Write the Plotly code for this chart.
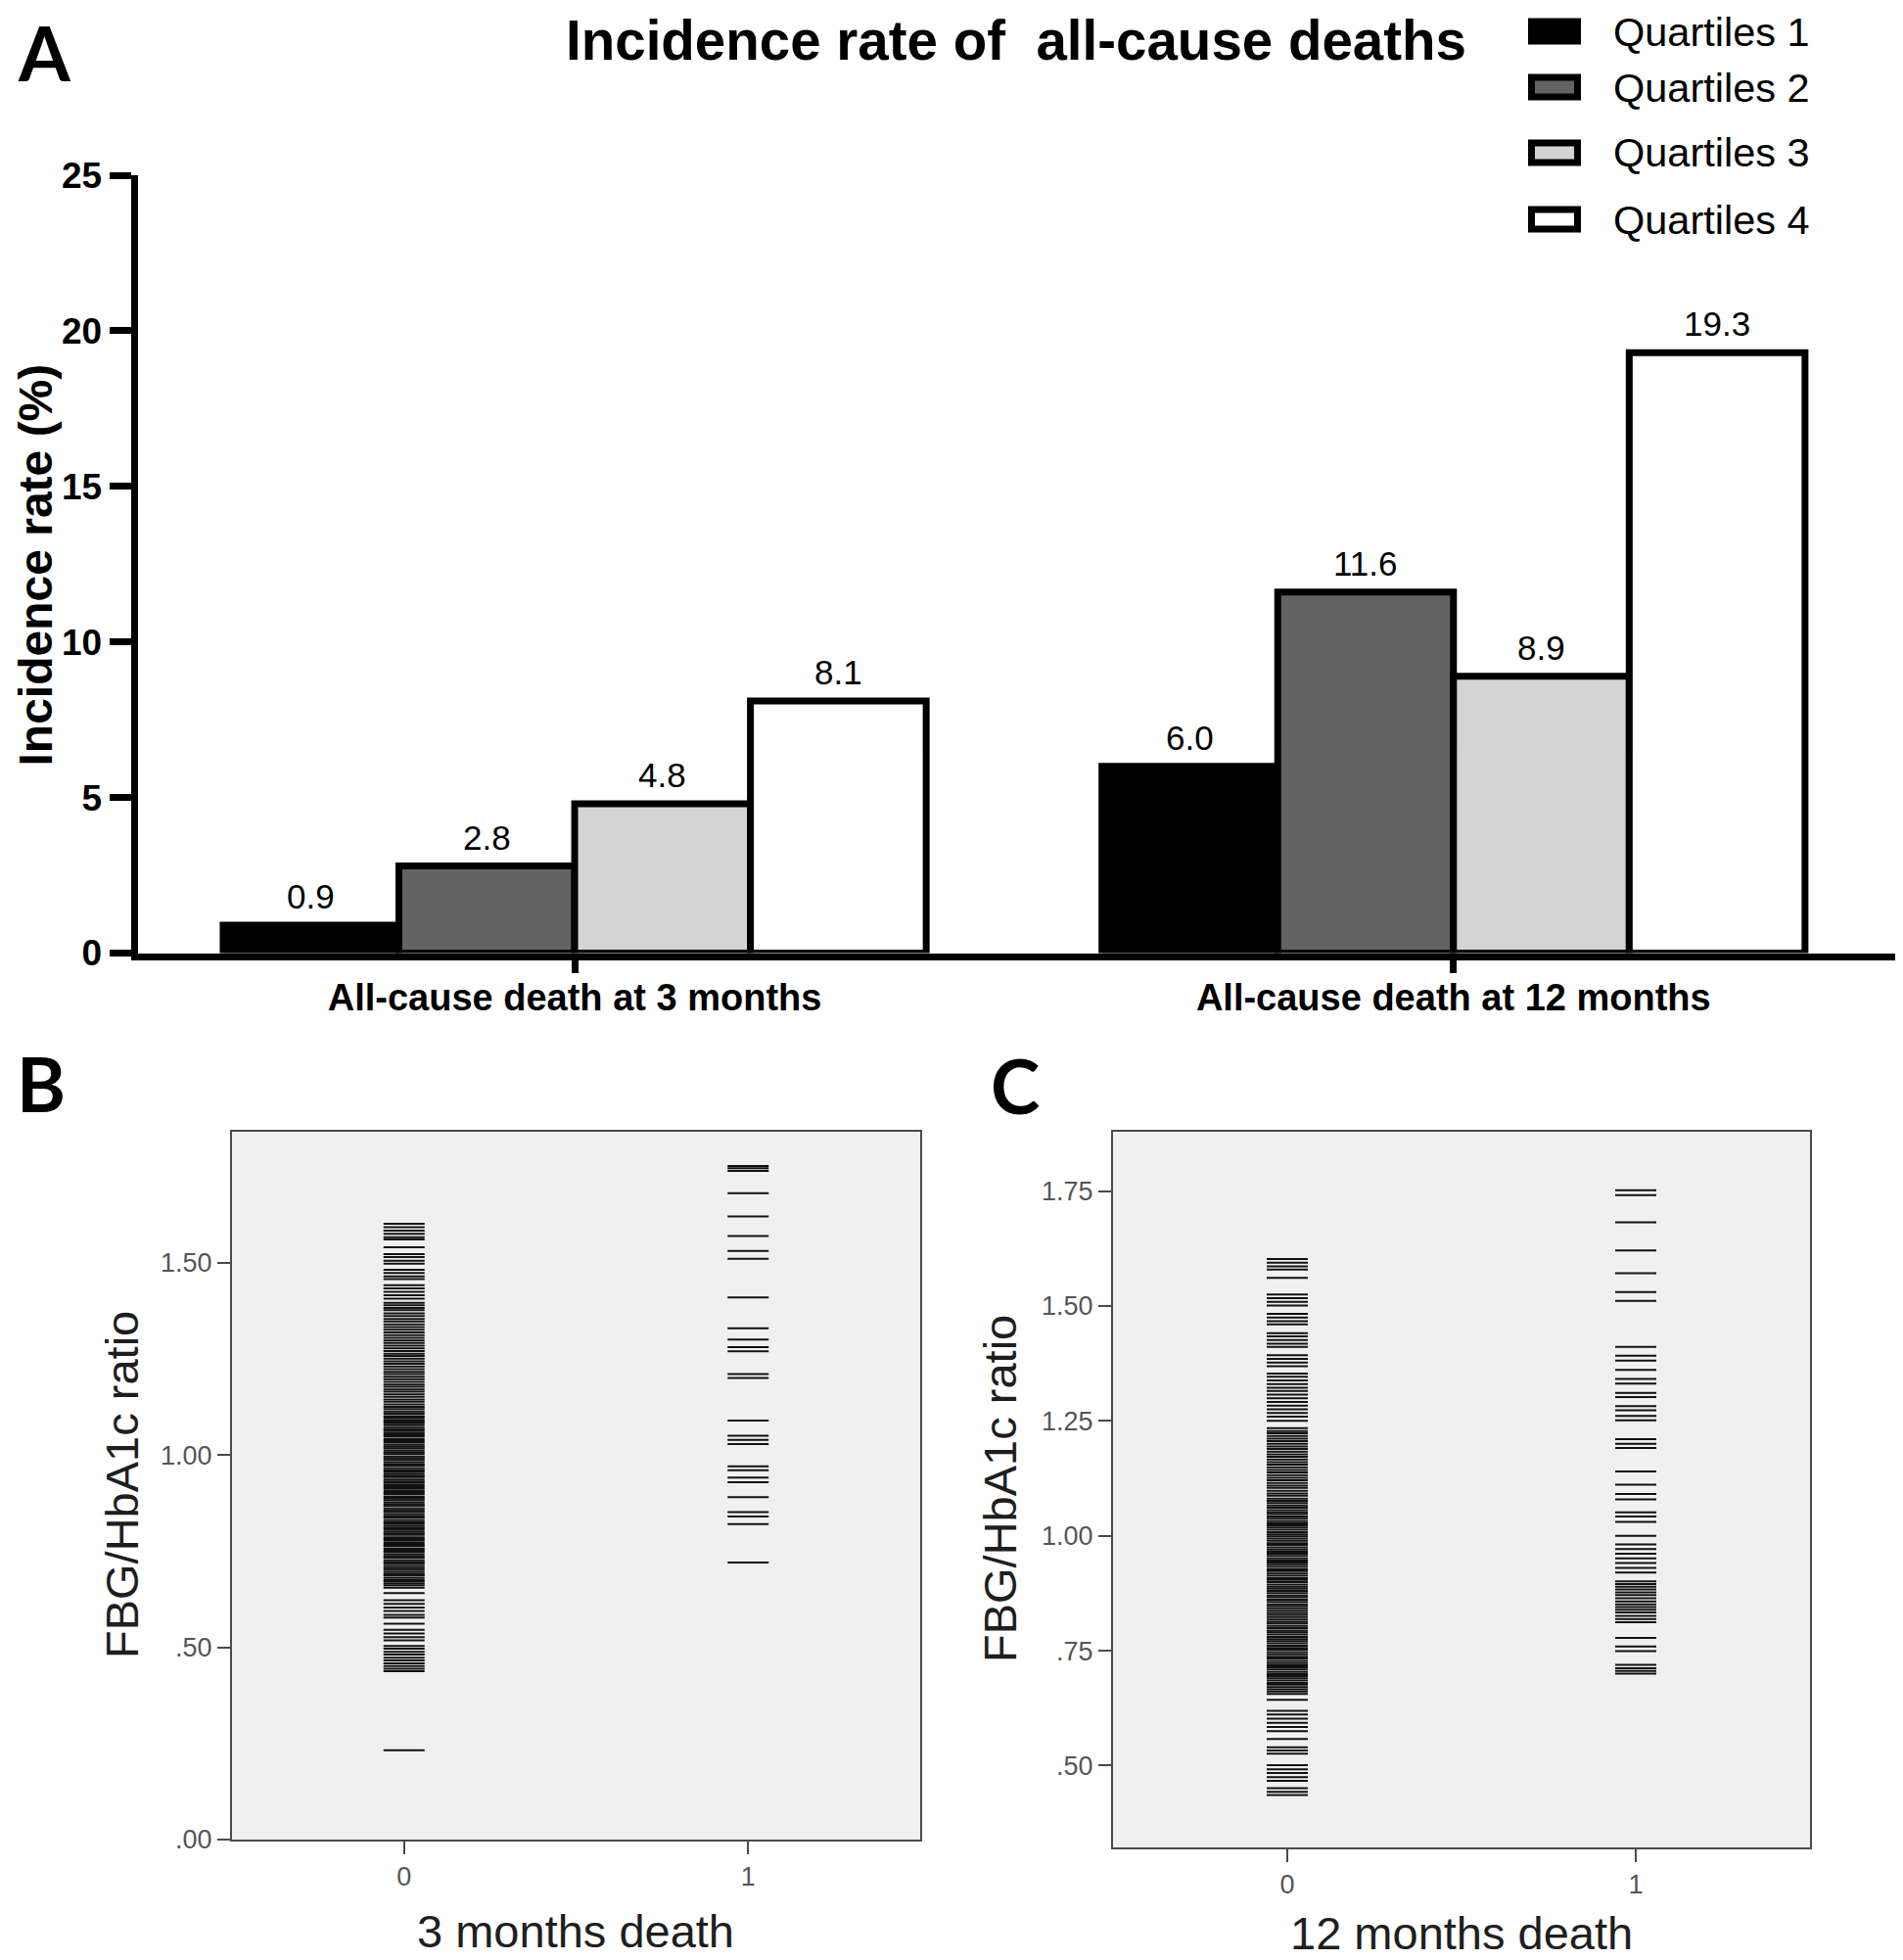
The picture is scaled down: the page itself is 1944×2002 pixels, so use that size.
import plotly.graph_objects as go

# ---------------- data ----------------
categories = ["All-cause death at 3 months", "All-cause death at 12 months"]
quartile_names = ["Quartiles 1", "Quartiles 2", "Quartiles 3", "Quartiles 4"]
q1_rates = [0.9, 6.0]
q2_rates = [2.8, 11.6]
q3_rates = [4.8, 8.9]
q4_rates = [8.1, 19.3]

y_ticks_a = [0, 5, 10, 15, 20, 25]

group_codes = [0, 1]
group_labels = ["0", "1"]

ticks_b = [0.0, 0.5, 1.0, 1.5]
ticklabels_b = [".00", ".50", "1.00", "1.50"]
ticks_c = [0.5, 0.75, 1.0, 1.25, 1.5, 1.75]
ticklabels_c = [".50", ".75", "1.00", "1.25", "1.50", "1.75"]

# FBG/HbA1c ratio, 3-month outcome: survivors (0)
ratio_3m_alive = [
    1.601, 1.592, 1.583, 1.575, 1.566, 1.560, 1.540, 1.522, 1.514, 1.505, 1.497,
    1.481, 1.473, 1.464, 1.457, 1.441, 1.433, 1.424, 1.415, 1.406,
    1.395, 1.389, 1.382, 1.376, 1.368, 1.361, 1.353, 1.347, 1.339, 1.332, 1.325,
    1.318, 1.311, 1.304, 1.297, 1.291, 1.284, 1.277, 1.270, 1.263, 1.257, 1.250,
    1.243, 1.237, 1.230, 1.223, 1.216, 1.210, 1.203, 1.197, 1.190, 1.183, 1.177,
    1.170, 1.164, 1.157, 1.151, 1.144, 1.138, 1.131, 1.125, 1.119, 1.113,
    1.107, 1.101, 1.097, 1.091, 1.087, 1.082, 1.077, 1.071, 1.066, 1.062, 1.056,
    1.051, 1.047, 1.041, 1.036, 1.032, 1.026, 1.021, 1.017, 1.011, 1.006, 1.002,
    0.996, 0.991, 0.987, 0.981, 0.976, 0.972, 0.966, 0.961, 0.957, 0.951, 0.946,
    0.942, 0.936, 0.931, 0.927, 0.921, 0.916, 0.912, 0.906, 0.901, 0.897, 0.891,
    0.886, 0.882, 0.876, 0.871, 0.867, 0.861, 0.856, 0.852, 0.846, 0.841, 0.837,
    0.831, 0.826, 0.822, 0.816, 0.811, 0.807, 0.801, 0.796, 0.792, 0.786, 0.781,
    0.777, 0.771, 0.766, 0.762, 0.756, 0.751, 0.747, 0.741, 0.736, 0.732, 0.726,
    0.721, 0.717, 0.711, 0.706, 0.702, 0.696, 0.691, 0.687, 0.681, 0.676, 0.672,
    0.666, 0.661, 0.655,
    0.641, 0.622, 0.613, 0.603, 0.594, 0.584, 0.577, 0.561, 0.545, 0.536, 0.526,
    0.518, 0.503, 0.496, 0.488, 0.481, 0.473, 0.466, 0.458, 0.451, 0.444, 0.438,
    0.232,
]
# FBG/HbA1c ratio, 3-month outcome: deaths (1)
ratio_3m_dead = [
    1.751, 1.745, 1.738, 1.680, 1.620, 1.569, 1.530, 1.510, 1.409, 1.329, 1.300,
    1.280, 1.269, 1.210, 1.200, 1.089, 1.050, 1.039, 1.028, 0.970, 0.960, 0.941,
    0.929, 0.890, 0.851, 0.840, 0.820, 0.720,
]
# FBG/HbA1c ratio, 12-month outcome: survivors (0)
ratio_12m_alive = [
    1.602, 1.594, 1.586, 1.579, 1.561, 1.525, 1.517, 1.509, 1.501, 1.483, 1.475,
    1.467, 1.460, 1.441, 1.434, 1.426, 1.418, 1.411, 1.393, 1.385, 1.377, 1.369,
    1.353, 1.346, 1.338, 1.330, 1.322, 1.315, 1.307, 1.299, 1.291, 1.283, 1.275,
    1.267, 1.259, 1.250,
    1.234, 1.228, 1.223, 1.217, 1.211, 1.206, 1.200, 1.194, 1.189, 1.183, 1.177,
    1.172, 1.166, 1.160, 1.155, 1.149, 1.143, 1.138, 1.132, 1.126, 1.121, 1.115,
    1.109, 1.104, 1.098, 1.092, 1.087, 1.081, 1.076, 1.071, 1.066, 1.061, 1.056,
    1.051, 1.047, 1.042, 1.037, 1.032, 1.027, 1.023, 1.018, 1.013, 1.008, 1.003,
    0.999, 0.994, 0.989, 0.984, 0.980, 0.975, 0.970, 0.965, 0.961, 0.956, 0.951,
    0.946, 0.942, 0.937, 0.932, 0.927, 0.923, 0.918, 0.913, 0.908, 0.904, 0.899,
    0.894, 0.889, 0.885, 0.880, 0.875, 0.870, 0.866, 0.861, 0.856, 0.851, 0.847,
    0.842, 0.837, 0.832, 0.828, 0.823, 0.818, 0.813, 0.809, 0.804, 0.799, 0.794,
    0.790, 0.785, 0.780, 0.775, 0.771, 0.766, 0.761, 0.756, 0.752, 0.747, 0.742,
    0.737, 0.733, 0.728, 0.723, 0.718, 0.714, 0.709, 0.704, 0.699, 0.695, 0.690,
    0.685, 0.680, 0.676, 0.671, 0.666, 0.661, 0.656,
    0.643, 0.619, 0.611, 0.602, 0.593, 0.584, 0.575, 0.558, 0.540, 0.533, 0.526,
    0.501, 0.492, 0.484, 0.475, 0.467, 0.451, 0.443, 0.436,
]
# FBG/HbA1c ratio, 12-month outcome: deaths (1)
ratio_12m_dead = [
    1.752, 1.741, 1.682, 1.621, 1.571, 1.530, 1.511, 1.411, 1.392, 1.381, 1.361,
    1.341, 1.331, 1.311, 1.302, 1.282, 1.273, 1.261, 1.251, 1.210, 1.200, 1.191,
    1.140, 1.111, 1.091, 1.079, 1.051, 1.042, 1.030, 1.000, 0.981, 0.971, 0.961,
    0.951, 0.941, 0.930, 0.920, 0.901, 0.895, 0.889, 0.883, 0.877, 0.871, 0.864,
    0.857, 0.851, 0.845, 0.839, 0.833, 0.826, 0.819, 0.812, 0.778, 0.759, 0.749,
    0.719, 0.712, 0.706, 0.700,
]

# ---------------- page geometry ----------------
# The page body has an 8 px margin; size the figure to the rest of the window
# and convert page pixels to paper fractions.
OX, OY = 8, 8
FW, FH = 1928, 1994

def px(x):
    return min(1.0, max(0.0, (x - OX) / FW))

def py(y):
    return min(1.0, max(0.0, 1 - (y - OY) / FH))

ARIAL = "Liberation Sans, Arial, sans-serif"
LABEL_FONT = "Lato, Noto Sans, sans-serif"
bar_colors = ["#000000", "#636363", "#d4d4d4", "#ffffff"]
BARGAP = 0.2
BOX = "#4a4a4a"
TICKGRAY = "#555555"

fig = go.Figure()

# ---------------- panel A: bars ----------------
series = [q1_rates, q2_rates, q3_rates, q4_rates]
for name, vals, col in zip(quartile_names, series, bar_colors):
    fig.add_trace(go.Bar(
        x=categories, y=vals, name=name,
        marker=dict(color=col, line=dict(color="black", width=7)),
        xaxis="x", yaxis="y", showlegend=False,
    ))

n = len(series)
w = (1 - BARGAP) / n
for j, vals in enumerate(series):
    off = -(1 - BARGAP) / 2 + w * (j + 0.5)
    for i, v in enumerate(vals):
        fig.add_annotation(
            x=i + off, y=v, xref="x", yref="y", text=f"{v:.1f}",
            showarrow=False, yanchor="bottom", yshift=8,
            font=dict(family=ARIAL, size=35, color="black"),
        )

# ---------------- panels B & C: rug strips ----------------
def rug(vals, code, xa, ya):
    return go.Scatter(
        x=[code] * len(vals), y=vals, mode="markers",
        marker=dict(symbol="line-ew", size=30, color="#111111",
                    line=dict(width=2, color="#111111")),
        xaxis=xa, yaxis=ya, showlegend=False, hoverinfo="y",
    )

fig.add_trace(rug(ratio_3m_alive, group_codes[0], "x2", "y2"))
fig.add_trace(rug(ratio_3m_dead, group_codes[1], "x2", "y2"))
fig.add_trace(rug(ratio_12m_alive, group_codes[0], "x3", "y3"))
fig.add_trace(rug(ratio_12m_dead, group_codes[1], "x3", "y3"))

# ---------------- axes ----------------
axA_x = dict(
    domain=[px(140.5), px(1936)], anchor="y", type="category",
    range=[-0.4974, 1.5026], automargin=False,
    showline=True, linecolor="black", linewidth=7,
    ticks="outside", ticklen=13, tickwidth=7, tickcolor="black",
    ticklabelstandoff=-7,
    tickfont=dict(family=ARIAL, size=38, color="black", weight="bold"),
    showgrid=False, zeroline=False,
)
axA_y = dict(
    domain=[py(973.5), py(179)], anchor="x", range=[0, 25], automargin=False,
    tickmode="array", tickvals=y_ticks_a,
    showline=True, linecolor="black", linewidth=7,
    ticks="outside", ticklen=22, tickwidth=7, tickcolor="black",
    tickfont=dict(family=ARIAL, size=37, color="black", weight="bold"),
    showgrid=False, zeroline=False,
)

def small_axis(domain, anchor, rng, tv, tt):
    return dict(
        domain=domain, anchor=anchor, range=rng, automargin=False,
        tickmode="array", tickvals=tv, ticktext=tt,
        showline=True, mirror=True, linecolor=BOX, linewidth=2,
        ticks="outside", ticklen=13, tickwidth=2, tickcolor=BOX,
        tickfont=dict(family=ARIAL, size=27, color=TICKGRAY),
        showgrid=False, zeroline=False,
    )

fig.update_layout(
    width=FW, height=FH,
    margin=dict(l=0, r=0, t=0, b=0, pad=0, autoexpand=False),
    paper_bgcolor="white", plot_bgcolor="white",
    barmode="group", bargap=BARGAP, bargroupgap=0,
    showlegend=False,
    xaxis=axA_x, yaxis=axA_y,
    xaxis2=small_axis([px(237), px(940)], "y2", [-0.5, 1.5], group_codes, group_labels),
    yaxis2=small_axis([py(1879), py(1156)], "x2", [0, 1.84], ticks_b, ticklabels_b),
    xaxis3=small_axis([px(1137), px(1849)], "y3", [-0.5, 1.5], group_codes, group_labels),
    yaxis3=small_axis([py(1887), py(1156)], "x3", [0.322, 1.879], ticks_c, ticklabels_c),
)

# gray plot backgrounds for B and C
for xa, ya in [("x2", "y2"), ("x3", "y3")]:
    fig.add_shape(type="rect", xref=f"{xa} domain", yref=f"{ya} domain",
                  x0=0, x1=1, y0=0, y1=1, fillcolor="#f0f0f0",
                  line=dict(width=0), layer="below")

# ---------------- legend (drawn manually) ----------------
legend_rows = [32, 89, 156, 224]
for name, col, cy in zip(quartile_names, bar_colors, legend_rows):
    fig.add_shape(type="rect", xref="paper", yref="paper",
                  x0=px(1564.5), x1=px(1611.5), y0=py(cy + 10), y1=py(cy - 10),
                  fillcolor=col, line=dict(color="black", width=7))
    fig.add_annotation(x=px(1646), y=py(cy), xref="paper", yref="paper",
                       text=name, showarrow=False, xanchor="left", yanchor="middle",
                       font=dict(family=ARIAL, size=41.5, color="black"))

# ---------------- text annotations ----------------
def ann(text, x, y, size, family=ARIAL, weight="normal", angle=0, color="black"):
    fig.add_annotation(x=px(x), y=py(y), xref="paper", yref="paper", text=text,
                       showarrow=False, xanchor="center", yanchor="middle",
                       textangle=angle,
                       font=dict(family=family, size=size, color=color, weight=weight))

ann("Incidence rate of \u00a0all-cause deaths", 1038, 42, 56.5, weight="bold")
ann("Incidence rate (%)", 35.5, 577, 48, weight="bold", angle=-90)
ann("A", 45, 54, 76, family=LABEL_FONT, weight="bold")
ann("B", 42, 1106, 76, family=LABEL_FONT, weight="bold")
ann("C", 1037, 1108, 76, family=LABEL_FONT, weight="bold")

ann("FBG/HbA1c ratio", 124, 1517, 47, angle=-90, color="#1e1e1e")
ann("3 months death", 588, 1972, 47, color="#1e1e1e")
ann("FBG/HbA1c ratio", 1021, 1521, 47, angle=-90, color="#1e1e1e")
ann("12 months death", 1493, 1974, 47, color="#1e1e1e")

fig.write_html("out.html")
